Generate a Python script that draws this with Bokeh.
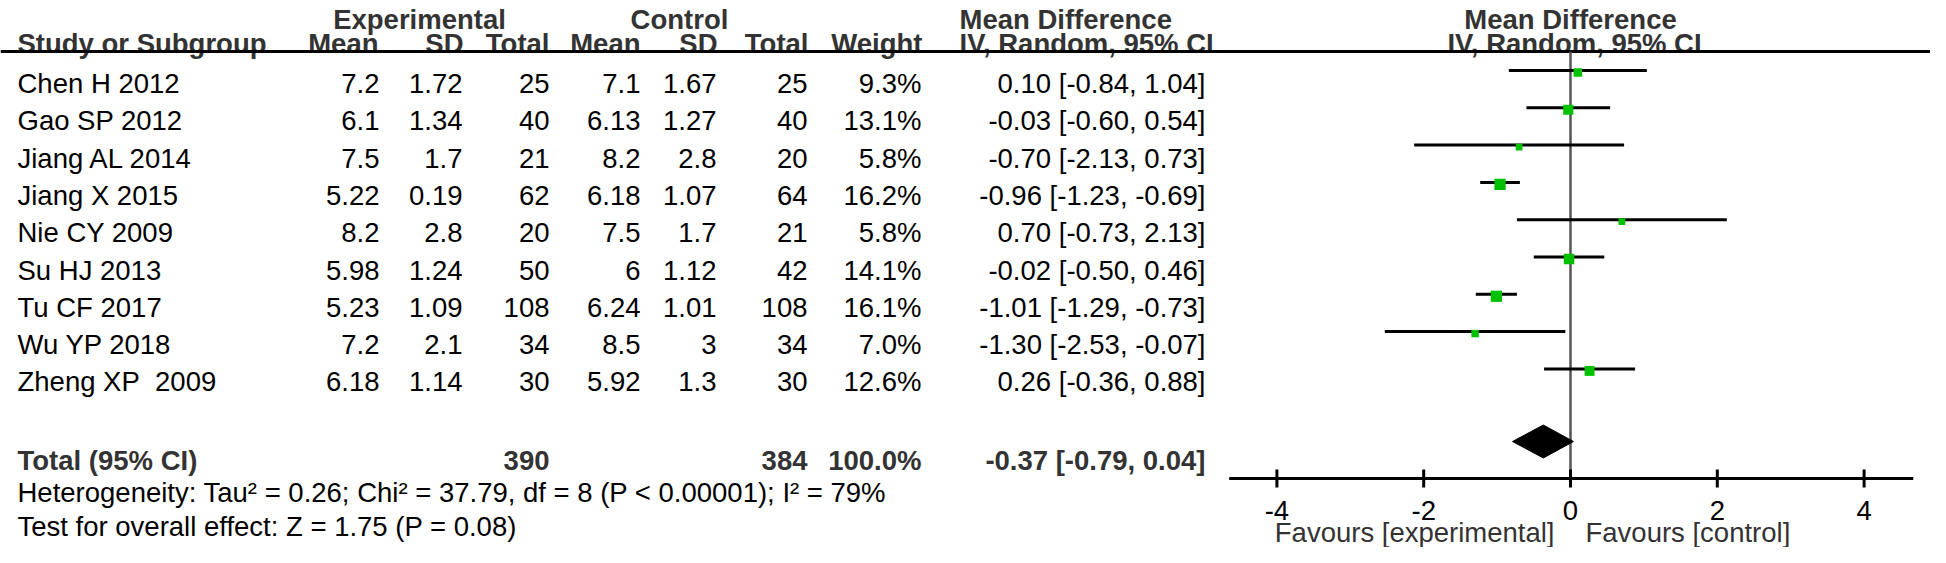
import math
from bokeh.plotting import figure
from bokeh.models import ColumnDataSource, Range1d
from bokeh.core.properties import value
from bokeh.embed import file_html
from bokeh.resources import INLINE

# ---------------- data ----------------
studies = ["Chen H 2012", "Gao SP 2012", "Jiang AL 2014", "Jiang X 2015", "Nie CY 2009",
           "Su HJ 2013", "Tu CF 2017", "Wu YP 2018", "Zheng XP\u00a0 2009"]
exp_mean = [7.2, 6.1, 7.5, 5.22, 8.2, 5.98, 5.23, 7.2, 6.18]
exp_sd = [1.72, 1.34, 1.7, 0.19, 2.8, 1.24, 1.09, 2.1, 1.14]
exp_total = [25, 40, 21, 62, 20, 50, 108, 34, 30]
ctrl_mean = [7.1, 6.13, 8.2, 6.18, 7.5, 6, 6.24, 8.5, 5.92]
ctrl_sd = [1.67, 1.27, 2.8, 1.07, 1.7, 1.12, 1.01, 3, 1.3]
ctrl_total = [25, 40, 20, 64, 21, 42, 108, 34, 30]
weight = [9.3, 13.1, 5.8, 16.2, 5.8, 14.1, 16.1, 7.0, 12.6]
md = [0.10, -0.03, -0.70, -0.96, 0.70, -0.02, -1.01, -1.30, 0.26]
md_lo = [-0.84, -0.60, -2.13, -1.23, -0.73, -0.50, -1.29, -2.53, -0.36]
md_hi = [1.04, 0.54, 0.73, -0.69, 2.13, 0.46, -0.73, -0.07, 0.88]

total_exp = 390
total_ctrl = 384
total_weight = 100.0
total_md = -0.37
total_lo = -0.79
total_hi = 0.04

heterogeneity = "Heterogeneity: Tau\u00b2 = 0.26; Chi\u00b2 = 37.79, df = 8 (P < 0.00001); I\u00b2 = 79%"
overall_effect = "Test for overall effect: Z = 1.75 (P = 0.08)"

group_headers = ["Experimental", "Control", "Mean Difference"]
col_headers = ["Mean", "SD", "Total", "Mean", "SD", "Total", "Weight"]
ci_header = "IV, Random, 95% CI"
study_header = "Study or Subgroup"
total_label = "Total (95% CI)"
ticks = [-4, -2, 0, 2, 4]
tick_labels = ["-4", "-2", "0", "2", "4"]
favours = ["Favours [experimental]", "Favours [control]"]

# ---------------- layout (page pixel coordinates) ----------------
W, H = 1930, 547
M = 8
FONT = "Liberation Sans"
FS = "27.5px"
ZERO_PX = 1578.0
PX_PER_UNIT = 73.4
ROW0 = 91.0
ROW_STEP = 37.3
HEAD1_Y = 27
HEAD2_Y = 51
HEAD_LINE_Y = 59
AXIS_Y = 486
AXIS_LO, AXIS_HI = -4.65, 4.67

p = figure(width=W, height=H, output_backend="svg", toolbar_location=None,
           x_range=Range1d(M, M + W), y_range=Range1d(M + H, M),
           x_axis_type=None, y_axis_type=None, min_border=0,
           outline_line_color=None, background_fill_color="white",
           border_fill_color="white")
p.extra_x_ranges = {"md": Range1d((M - ZERO_PX) / PX_PER_UNIT, (M + W - ZERO_PX) / PX_PER_UNIT)}


def txt(x, y, texts, align, bold=False, color="black", rng="default", x_offset=0):
    src = ColumnDataSource(dict(x=list(x), y=list(y), text=list(texts)))
    p.text("x", "y", "text", source=src, text_align=align, text_baseline="alphabetic",
           text_font=value(FONT), text_font_size=FS,
           text_font_style="bold" if bold else "normal", text_color=color,
           x_range_name=rng, x_offset=x_offset)


n = len(studies)
base = [ROW0 + i * ROW_STEP for i in range(n)]
line_y = [b - 13 for b in base]
total_base = 468

HDR = "#333333"
# group headers
txt([427, 687], [HEAD1_Y, HEAD1_Y], group_headers[:2], "center", True, HDR)
txt([967], [HEAD1_Y], [group_headers[2]], "left", True, HDR)
txt([0], [HEAD1_Y], [group_headers[2]], "center", True, HDR, rng="md")
# column headers
txt([25], [HEAD2_Y], [study_header], "left", True, HDR)
col_x = [386, 471, 557, 648, 725, 816, 930]
txt(col_x, [HEAD2_Y] * len(col_x), col_headers, "right", True, HDR)
txt([967], [HEAD2_Y], [ci_header], "left", True, HDR)
txt([0], [HEAD2_Y], [ci_header], "center", True, HDR, rng="md", x_offset=4)

# header rule
p.segment(x0=[M], x1=[M + W], y0=[HEAD_LINE_Y], y1=[HEAD_LINE_Y], line_color="black", line_width=3)

# study rows
fmt = lambda v: f"{v:g}"
val_x = [387, 470, 557, 648, 724, 815, 929]
cols = [[fmt(v) for v in exp_mean], [fmt(v) for v in exp_sd], [str(v) for v in exp_total],
        [fmt(v) for v in ctrl_mean], [fmt(v) for v in ctrl_sd], [str(v) for v in ctrl_total],
        [f"{w:.1f}%" for w in weight]]
txt([25] * n, base, studies, "left")
for cx, col in zip(val_x, cols):
    txt([cx] * n, base, col, "right")
ci_txt = [f"{m:.2f} [{l:.2f}, {h:.2f}]" for m, l, h in zip(md, md_lo, md_hi)]
txt([1213] * n, base, ci_txt, "right")

# total row
txt([25], [total_base], [total_label], "left", True, HDR)
txt([557, 815, 929], [total_base] * 3,
    [str(total_exp), str(total_ctrl), f"{total_weight:.1f}%"], "right", True, HDR)
txt([1213], [total_base], [f"{total_md:.2f} [{total_lo:.2f}, {total_hi:.2f}]"], "right", True, HDR)

# heterogeneity / overall
txt([25], [500], [heterogeneity], "left")
txt([25], [534], [overall_effect], "left")

# forest plot
p.segment(x0=[0], x1=[0], y0=[HEAD_LINE_Y], y1=[AXIS_Y], x_range_name="md",
          line_color="#555555", line_width=2.5)
p.segment(x0=md_lo, x1=md_hi, y0=line_y, y1=line_y, x_range_name="md",
          line_color="black", line_width=3)
sizes = [2.8 * math.sqrt(w) for w in weight]
p.scatter(x=md, y=[y + 2 for y in line_y], size=sizes, marker="square",
          fill_color="#00C000", line_color=None, x_range_name="md")
dy = 449
p.patch(x=[total_lo, total_md, total_hi, total_md], y=[dy, dy - 16.5, dy, dy + 16.5],
        x_range_name="md", fill_color="black", line_color="black", line_width=1)

# axis
p.segment(x0=[AXIS_LO], x1=[AXIS_HI], y0=[AXIS_Y], y1=[AXIS_Y], x_range_name="md",
          line_color="black", line_width=3)
p.segment(x0=ticks, x1=ticks, y0=[AXIS_Y - 9] * len(ticks), y1=[AXIS_Y + 9] * len(ticks),
          x_range_name="md", line_color="black", line_width=3)
txt(ticks, [518] * len(ticks), tick_labels, "center", rng="md")
txt([0], [540], [favours[0]], "right", False, HDR, rng="md", x_offset=-16)
txt([0], [540], [favours[1]], "left", False, HDR, rng="md", x_offset=15)

open("out.html", "w").write(file_html(p, INLINE))
